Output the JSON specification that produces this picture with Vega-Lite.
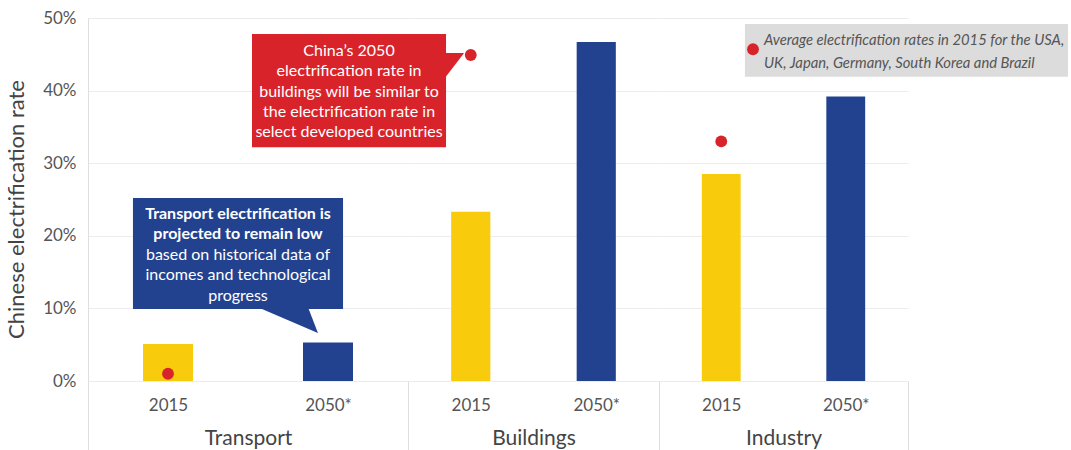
{
  "$schema": "https://vega.github.io/schema/vega-lite/v6.json",
  "padding": {"left": 5, "top": 9, "right": 2, "bottom": 0},
  "bounds": "flush",
  "config": {
    "font": "Lato",
    "view": {"stroke": null},
    "axis": {"gridColor": "#ececec", "labelColor": "#555555", "titleColor": "#444444", "titleFontWeight": "normal"}
  },
  "datasets": {
    "bars": [
      {"sector": "Transport", "year": "2015", "rate": 0.051},
      {"sector": "Transport", "year": "2050*", "rate": 0.053},
      {"sector": "Buildings", "year": "2015", "rate": 0.233},
      {"sector": "Buildings", "year": "2050*", "rate": 0.467},
      {"sector": "Industry", "year": "2015", "rate": 0.285},
      {"sector": "Industry", "year": "2050*", "rate": 0.392}
    ],
    "dev": [
      {"sector": "Transport", "year": "2015", "rate": 0.01},
      {"sector": "Buildings", "year": "2015", "rate": 0.449},
      {"sector": "Industry", "year": "2015", "rate": 0.33}
    ]
  },
  "spacing": 0,
  "resolve": {"scale": {"x": "independent", "y": "independent", "color": "independent"}},
  "hconcat": [
    {
      "width": 320,
      "height": 363,
      "layer": [
        {
          "data": {"name": "bars"},
          "transform": [{"filter": "datum.sector === 'Transport'"}],
          "mark": {"type": "bar", "width": {"band": 0.3125}},
          "encoding": {
            "x": {"field": "year", "type": "nominal", "scale": {"domain": ["2015", "2050*"], "paddingInner": 0, "paddingOuter": 0},
              "axis": {"title": "Transport", "labelAngle": 0, "domain": false, "tickBand": "extent", "tickSize": 70, "tickColor": "#dedede",
                "tickOpacity": {"condition": {"test": "datum.value !== '2015'", "value": 1}, "value": 0},
                "labelPadding": -54, "labelFontSize": 17, "titleFontSize": 21, "titleY": 63, "titleBaseline": "alphabetic"}},
            "y": {"field": "rate", "type": "quantitative", "scale": {"domain": [0, 0.5]},
              "axis": {"values": [0, 0.1, 0.2, 0.3, 0.4, 0.5], "format": ".0%", "title": "Chinese electrification rate", "titleFontSize": 22,
                "labelFontSize": 17, "ticks": false, "labelPadding": 12, "domainColor": "#dedede", "grid": true, "titlePadding": 14, "titleY": 191}},
            "color": {"field": "year", "type": "nominal", "scale": {"domain": ["2015", "2050*"], "range": ["#F8CC0C", "#22428F"]}, "legend": null}
          }
        },
        {
          "data": {"name": "dev"},
          "transform": [{"filter": "datum.sector === 'Transport'"}],
          "mark": {"type": "circle", "size": 140, "color": "#D9232B", "opacity": 1},
          "encoding": {"x": {"field": "year", "type": "nominal"}, "y": {"field": "rate", "type": "quantitative"}}
        },
        {
          "data": {"values": [{}]},
          "mark": {"type": "rect", "color": "#22428F"},
          "encoding": {"x": {"datum": "2015", "bandPosition": 0.281}, "x2": {"datum": "2050*", "bandPosition": 0.594}, "y": {"datum": 0.252}, "y2": {"datum": 0.0992}}
        },
        {
          "data": {"values": [{}]},
          "mark": {"type": "point", "shape": "M -0.99 -0.03 L -0.28 -0.03 L -0.14 0.333 Z", "size": 20736, "filled": true, "color": "#22428F", "opacity": 1, "strokeWidth": 0},
          "encoding": {"x": {"datum": "2050*"}, "y": {"datum": 0.0992}}
        },
        {
          "data": {"values": [{}]},
          "mark": {"type": "text", "text": ["Transport electrification is", "projected to remain low"], "fontWeight": "bold", "fontSize": 16, "lineHeight": 20.4, "align": "center", "baseline": "alphabetic", "color": "white"},
          "encoding": {"x": {"datum": "2015", "bandPosition": 0.9375}, "y": {"datum": 0.223}}
        },
        {
          "data": {"values": [{}]},
          "mark": {"type": "text", "text": ["based on historical data of", "incomes and technological", "progress"], "fontSize": 16, "lineHeight": 20.4, "align": "center", "baseline": "alphabetic", "color": "white"},
          "encoding": {"x": {"datum": "2015", "bandPosition": 0.9375}, "y": {"datum": 0.1667}}
        }
      ]
    },
    {
      "width": 251,
      "height": 363,
      "layer": [
        {
          "data": {"name": "bars"},
          "transform": [{"filter": "datum.sector === 'Buildings'"}],
          "mark": {"type": "bar", "width": {"band": 0.312}},
          "encoding": {
            "x": {"field": "year", "type": "nominal", "scale": {"domain": ["2015", "2050*"], "paddingInner": 0, "paddingOuter": 0},
              "axis": {"title": "Buildings", "labelAngle": 0, "domain": false, "tickBand": "extent", "tickSize": 70, "tickColor": "#dedede",
                "tickOpacity": {"condition": {"test": "datum.value !== '2015'", "value": 1}, "value": 0},
                "labelPadding": -54, "labelFontSize": 17, "titleFontSize": 21, "titleY": 63, "titleBaseline": "alphabetic"}},
            "y": {"field": "rate", "type": "quantitative", "scale": {"domain": [0, 0.5]},
              "axis": {"values": [0, 0.1, 0.2, 0.3, 0.4, 0.5], "labels": false, "ticks": false, "domain": false, "title": null, "grid": true}},
            "color": {"field": "year", "type": "nominal", "scale": {"domain": ["2015", "2050*"], "range": ["#F8CC0C", "#22428F"]}, "legend": null}
          }
        },
        {
          "data": {"name": "dev"},
          "transform": [{"filter": "datum.sector === 'Buildings'"}],
          "mark": {"type": "circle", "size": 140, "color": "#D9232B", "opacity": 1},
          "encoding": {"x": {"field": "year", "type": "nominal"}, "y": {"field": "rate", "type": "quantitative"}}
        },
        {
          "data": {"values": [{}]},
          "mark": {"type": "rect", "color": "#D9232B"},
          "encoding": {"x": {"datum": "2015", "bandPosition": -1.243}, "x2": {"datum": "2015", "bandPosition": 0.303}, "y": {"datum": 0.478}, "y2": {"datum": 0.322}}
        },
        {
          "data": {"values": [{}]},
          "mark": {"type": "point", "shape": "M -0.1 0 L 0.67 0 L -0.1 1 Z", "size": 2916, "filled": true, "color": "#D9232B", "opacity": 1, "strokeWidth": 0},
          "encoding": {"x": {"datum": "2015", "bandPosition": 0.303}, "y": {"datum": 0.4518}}
        },
        {
          "data": {"values": [{}]},
          "mark": {"type": "text", "text": ["China’s 2050", "electrification rate in", "buildings will be similar to", "the electrification rate in", "select developed countries"], "fontSize": 16, "lineHeight": 20.3, "align": "center", "baseline": "alphabetic", "color": "white"},
          "encoding": {"x": {"datum": "2015", "bandPosition": -0.47}, "y": {"datum": 0.4477}}
        }
      ]
    },
    {
      "width": 249,
      "height": 363,
      "layer": [
        {
          "data": {"name": "bars"},
          "transform": [{"filter": "datum.sector === 'Industry'"}],
          "mark": {"type": "bar", "width": {"band": 0.312}},
          "encoding": {
            "x": {"field": "year", "type": "nominal", "scale": {"domain": ["2015", "2050*"], "paddingInner": 0, "paddingOuter": 0},
              "axis": {"title": "Industry", "labelAngle": 0, "domain": false, "tickBand": "extent", "tickSize": 70, "tickColor": "#dedede",
                "tickOpacity": {"condition": {"test": "datum.value !== '2015'", "value": 1}, "value": 0},
                "labelPadding": -54, "labelFontSize": 17, "titleFontSize": 21, "titleY": 63, "titleBaseline": "alphabetic"}},
            "y": {"field": "rate", "type": "quantitative", "scale": {"domain": [0, 0.5]},
              "axis": {"values": [0, 0.1, 0.2, 0.3, 0.4, 0.5], "labels": false, "ticks": false, "domain": false, "title": null, "grid": true}},
            "color": {"field": "year", "type": "nominal", "scale": {"domain": ["2015", "2050*"], "range": ["#F8CC0C", "#22428F"]}, "legend": null}
          }
        },
        {
          "data": {"name": "dev"},
          "transform": [{"filter": "datum.sector === 'Industry'"}],
          "mark": {"type": "circle", "size": 140, "color": "#D9232B", "opacity": 1},
          "encoding": {"x": {"field": "year", "type": "nominal"}, "y": {"field": "rate", "type": "quantitative"}}
        },
        {
          "data": {"values": [{}]},
          "mark": {"type": "rect", "color": "#DCDCDC"},
          "encoding": {"x": {"datum": "2015", "bandPosition": 0.69}, "x2": {"datum": "2050*", "bandPosition": 2.285}, "y": {"datum": 0.4917}, "y2": {"datum": 0.419}}
        },
        {
          "data": {"values": [{}]},
          "mark": {"type": "circle", "size": 140, "color": "#D9232B", "opacity": 1},
          "encoding": {"x": {"datum": "2015", "bandPosition": 0.755}, "y": {"datum": 0.457}}
        },
        {
          "data": {"values": [{}]},
          "mark": {"type": "text", "text": ["Average electrification rates in 2015 for the USA,", "UK, Japan, Germany, South Korea and Brazil"], "fontStyle": "italic", "fontSize": 14.8, "lineHeight": 23, "align": "left", "baseline": "alphabetic", "color": "#555555"},
          "encoding": {"x": {"datum": "2015", "bandPosition": 0.843}, "y": {"datum": 0.4628}}
        }
      ]
    }
  ]
}
